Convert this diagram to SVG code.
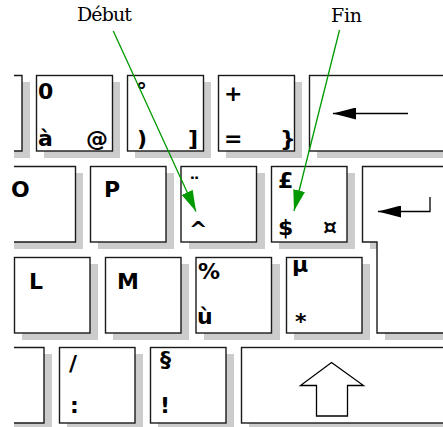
<svg xmlns="http://www.w3.org/2000/svg" width="443" height="427" viewBox="0 0 443 427">
  <style>
    .shadow { fill: #cccccc; stroke: none; }
    .key { fill: #ffffff; stroke: #1a1a1a; stroke-width: 1.4; }
    .open { fill: #ffffff; stroke: #1a1a1a; stroke-width: 1.4; }
    .sym { font-family: "DejaVu Sans", "Liberation Sans", sans-serif; font-weight: bold; font-size: 22px; fill: #000000; }
    .lbl { font-family: "DejaVu Serif", "Liberation Serif", serif; font-size: 19px; fill: #000000; }
    .glyph { fill: none; stroke: #000000; stroke-width: 1.3; }
    .pointer { fill: none; stroke: #009900; stroke-width: 1.3; }
  </style>
  <defs>
    <marker id="headGreen" viewBox="0 0 21 12" refX="21" refY="6" markerWidth="21" markerHeight="12" markerUnits="userSpaceOnUse" orient="auto">
      <path d="M0,0 L21,6 L0,12 z" fill="#009900"/>
    </marker>
    <marker id="headBlack" viewBox="0 0 23 12" refX="23" refY="6" markerWidth="23" markerHeight="12" markerUnits="userSpaceOnUse" orient="auto">
      <path d="M0,0 L23,6 L0,12 z" fill="#000000"/>
    </marker>
  </defs>

  <!-- row 1 -->
  <g id="key-r1-partial">
    <rect class="shadow" x="14" y="82" width="16" height="76"/>
    <polyline class="open" points="14,75.5 22,75.5 22,151 14,151"/>
  </g>
  <g id="key-0">
    <rect class="shadow" x="44" y="82" width="76" height="76"/>
    <rect class="key" x="36.5" y="75.5" width="76" height="75.5"/>
    <text class="sym" x="38" y="99">0</text>
    <text class="sym" x="38" y="146">à</text>
    <text class="sym" x="86" y="146">@</text>
  </g>
  <g id="key-paren">
    <rect class="shadow" x="135" y="82" width="76" height="76"/>
    <rect class="key" x="127.5" y="75.5" width="76" height="75.5"/>
    <text class="sym" x="136" y="98">°</text>
    <text class="sym" x="137" y="146">)</text>
    <text class="sym" x="188" y="146">]</text>
  </g>
  <g id="key-plus">
    <rect class="shadow" x="226" y="82" width="76" height="76"/>
    <rect class="key" x="218.5" y="75.5" width="76" height="75.5"/>
    <text class="sym" x="224" y="101">+</text>
    <text class="sym" x="224" y="146">=</text>
    <text class="sym" x="280" y="146">}</text>
  </g>
  <g id="key-backspace">
    <rect class="shadow" x="317" y="82" width="140" height="76"/>
    <rect class="key" x="309.5" y="75.5" width="140" height="75.5"/>
    <line class="glyph" x1="408" y1="113.5" x2="333" y2="113.5" marker-end="url(#headBlack)"/>
  </g>

  <!-- row 2 -->
  <g id="key-O">
    <rect class="shadow" x="14" y="173" width="69" height="76"/>
    <polyline class="open" points="14,166.5 75.5,166.5 75.5,242 14,242"/>
    <text class="sym" x="11" y="197">O</text>
  </g>
  <g id="key-P">
    <rect class="shadow" x="98" y="173" width="76" height="76"/>
    <rect class="key" x="90.5" y="166.5" width="75.5" height="75.5"/>
    <text class="sym" x="104" y="197">P</text>
  </g>
  <g id="key-circumflex">
    <rect class="shadow" x="189" y="173" width="76" height="76"/>
    <rect class="key" x="181" y="166.5" width="75.5" height="75.5"/>
    <text class="sym" x="189" y="193">¨</text>
    <text class="sym" x="189" y="237">^</text>
  </g>
  <g id="key-pound">
    <rect class="shadow" x="279" y="173" width="76" height="76"/>
    <rect class="key" x="271.5" y="166.5" width="75.5" height="75.5"/>
    <text class="sym" x="278" y="188">£</text>
    <text class="sym" x="278" y="235">$</text>
    <text class="sym" x="323" y="234">¤</text>
  </g>
  <g id="key-enter">
    <path class="shadow" d="M370,173 L460,173 L460,340 L385,340 L385,249 L370,249 Z"/>
    <path class="key" d="M362.5,166.5 L452,166.5 L452,333 L377,333 L377,242 L362.5,242 Z"/>
    <polyline class="glyph" points="430,197 430,211.5 378,211.5" marker-end="url(#headBlack)"/>
  </g>

  <!-- row 3 -->
  <g id="key-L">
    <rect class="shadow" x="22" y="264" width="76" height="76"/>
    <rect class="key" x="14.5" y="257.5" width="75.5" height="75.5"/>
    <text class="sym" x="29" y="289">L</text>
  </g>
  <g id="key-M">
    <rect class="shadow" x="113" y="264" width="76" height="76"/>
    <rect class="key" x="105.5" y="257.5" width="75.5" height="75.5"/>
    <text class="sym" x="117" y="289">M</text>
  </g>
  <g id="key-percent">
    <rect class="shadow" x="204" y="264" width="76" height="76"/>
    <rect class="key" x="196" y="257.5" width="75.5" height="75.5"/>
    <text class="sym" x="198" y="279">%</text>
    <text class="sym" x="197" y="324">ù</text>
  </g>
  <g id="key-mu">
    <rect class="shadow" x="294" y="264" width="76" height="76"/>
    <rect class="key" x="286.5" y="257.5" width="75.5" height="75.5"/>
    <text class="sym" x="292" y="272">µ</text>
    <text class="sym" x="295" y="329">*</text>
  </g>

  <!-- row 4 -->
  <g id="key-r4-partial">
    <rect class="shadow" x="14" y="354" width="38" height="76"/>
    <polyline class="open" points="14,347.5 44,347.5 44,423 14,423"/>
  </g>
  <g id="key-slash">
    <rect class="shadow" x="67" y="354" width="76" height="76"/>
    <rect class="key" x="59.5" y="347.5" width="75.5" height="75.5"/>
    <text class="sym" x="69" y="371">/</text>
    <text class="sym" x="70" y="413">:</text>
  </g>
  <g id="key-section">
    <rect class="shadow" x="158" y="354" width="76" height="76"/>
    <rect class="key" x="150.5" y="347.5" width="75.5" height="75.5"/>
    <text class="sym" x="160" y="367">§</text>
    <text class="sym" x="160" y="413">!</text>
  </g>
  <g id="key-shift">
    <rect class="shadow" x="249" y="354" width="210" height="76"/>
    <rect class="key" x="241.5" y="347.5" width="210" height="75.5"/>
    <polygon class="glyph" fill="#ffffff" points="331.5,362.5 363.5,385.5 347.5,385.5 347.5,416 316.5,416 316.5,385.5 300.5,385.5"/>
  </g>

  <!-- labels -->
  <text id="label-debut" class="lbl" x="77" y="21" textLength="55">Début</text>
  <text id="label-fin" class="lbl" x="331" y="22" textLength="31">Fin</text>

  <!-- connectors -->
  <g id="connectors">
    <line class="pointer" x1="113.3" y1="31" x2="196" y2="211.5" marker-end="url(#headGreen)"/>
    <line class="pointer" x1="339.5" y1="30" x2="294" y2="211" marker-end="url(#headGreen)"/>
  </g>
</svg>
